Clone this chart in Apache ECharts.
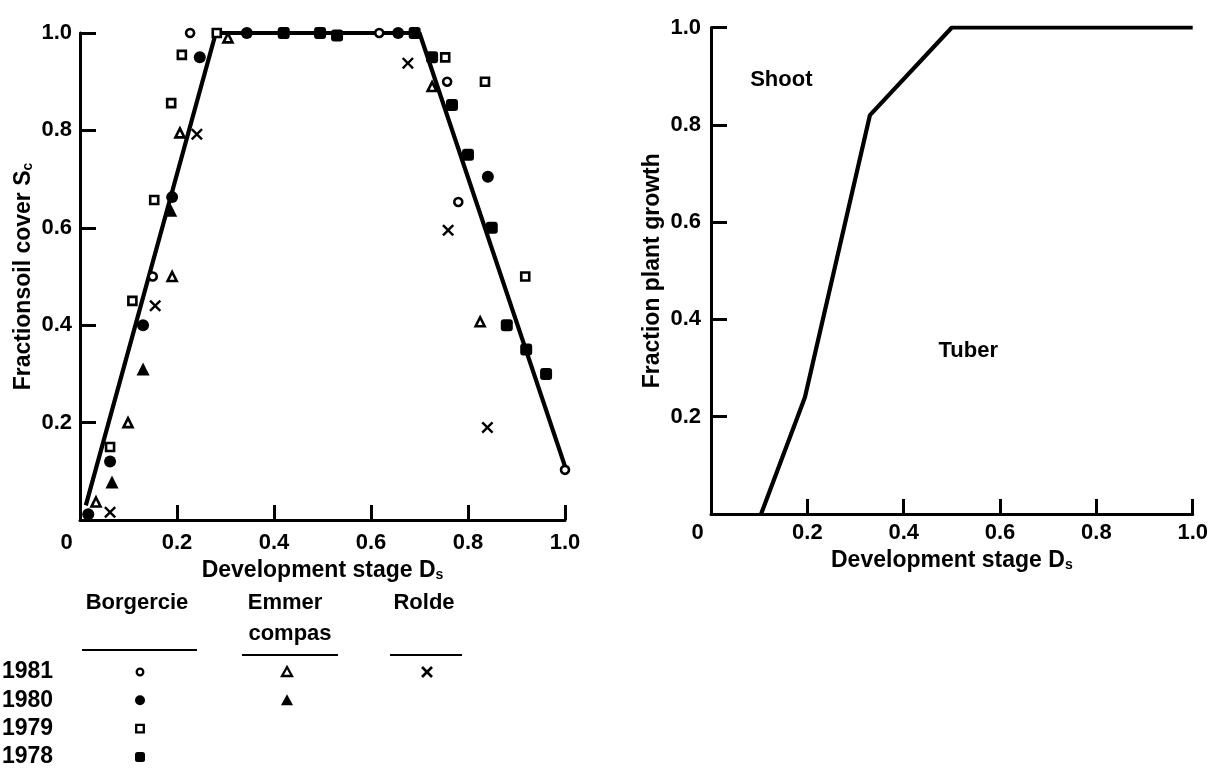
<!DOCTYPE html>
<html>
<head>
<meta charset="utf-8">
<script src="https://cdn.jsdelivr.net/npm/echarts@6/dist/echarts.min.js"></script>
<style>
  html, body { margin: 0; padding: 0; background: #fff; }
  #chart { width: 1211px; height: 769px; }
</style>
</head>
<body>
<div id="chart"></div>
<script>
// ---------- data (left panel: fraction soil cover) ----------
const fitLine     = [[0.012,0.03],[0.28,1.0],[0.70,1.0],[1.0,0.11]];
const borg1981    = [[0.227,1.0],[0.15,0.50],[0.617,1.0],[0.757,0.90],[0.78,0.653],[1.0,0.103]];
const borg1980    = [[0.247,0.95],[0.19,0.663],[0.13,0.40],[0.062,0.12],[0.017,0.012],[0.344,1.0],[0.656,1.0],[0.841,0.705]];
const borg1979    = [[0.21,0.955],[0.188,0.856],[0.153,0.657],[0.108,0.45],[0.062,0.15],[0.282,1.0],[0.753,0.95],[0.835,0.90],[0.918,0.50]];
const borg1978    = [[0.42,1.0],[0.495,1.0],[0.53,0.995],[0.69,1.0],[0.726,0.95],[0.767,0.852],[0.80,0.75],[0.849,0.60],[0.88,0.40],[0.92,0.35],[0.961,0.30]];
const emmer1981   = [[0.305,0.99],[0.206,0.795],[0.19,0.50],[0.099,0.20],[0.033,0.037],[0.726,0.89],[0.825,0.407]];
const emmer1980   = [[0.187,0.636],[0.13,0.31],[0.066,0.078]];
const rolde1981   = [[0.241,0.792],[0.155,0.44],[0.062,0.016],[0.676,0.938],[0.759,0.595],[0.84,0.19]];

// ---------- data (right panel: fraction plant growth) ----------
const growthLine  = [[0.104,0],[0.195,0.24],[0.33,0.82],[0.5,1.0],[1.0,1.0]];
const regionLabels = [
  { name: 'Shoot', value: [0.146, 0.893] },
  { name: 'Tuber', value: [0.534, 0.335] }
];

// ---------- text ----------
const xAxisName = 'Development stage D{s|s}';
const yLeftName = 'Fractionsoil cover S{s|c}';
const yRightName = 'Fraction plant growth';
const legendYears = ['1981','1980','1979','1978'];
const legendSites = ['Borgercie','Emmer','Rolde'];
const legendSites2 = ['','compas',''];

const FONT = 'Liberation Sans';
const FW = 'bold';
const BLACK = '#000';
const CROSS = 'path://M0,1.4L1.4,0L5,3.6L8.6,0L10,1.4L6.4,5L10,8.6L8.6,10L5,6.4L1.4,10L0,8.6L3.6,5Z';

const chart = echarts.init(document.getElementById('chart'), null, { renderer: 'canvas' });

const subRich = { s: { fontFamily: FONT, fontWeight: FW, fontSize: 14, color: BLACK, verticalAlign: 'bottom', padding: [9,0,0,0] } };

function xAxisCfg(gridIndex, margin, gap) {
  return {
    gridIndex, type: 'value', min: 0, max: 1, interval: 0.2,
    name: xAxisName, nameLocation: 'middle', nameGap: gap,
    nameTextStyle: { color: BLACK, fontFamily: FONT, fontWeight: FW, fontSize: 23, rich: subRich },
    axisLine: { show: true, lineStyle: { color: BLACK, width: 3 } },
    axisTick: { show: true, inside: true, length: 15, lineStyle: { color: BLACK, width: 3 } },
    splitLine: { show: false },
    axisLabel: { color: BLACK, fontFamily: FONT, fontWeight: FW, fontSize: 22, margin: margin,
      formatter: v => v === 0 ? '{z|0}' : v.toFixed(1),
      rich: { z: { fontFamily: FONT, fontWeight: FW, fontSize: 22, color: BLACK, padding: [0, 27, 0, 0] } } }
  };
}
function yAxisCfg(gridIndex, name, gap, margin) {
  return {
    gridIndex, type: 'value', min: 0, max: 1, interval: 0.2,
    name: name, nameLocation: 'middle', nameGap: gap, nameRotate: 90,
    nameTextStyle: { color: BLACK, fontFamily: FONT, fontWeight: FW, fontSize: 23, rich: subRich },
    axisLine: { show: true, lineStyle: { color: BLACK, width: 3 } },
    axisTick: { show: true, inside: true, length: 16, lineStyle: { color: BLACK, width: 3 } },
    splitLine: { show: false },
    axisLabel: { color: BLACK, fontFamily: FONT, fontWeight: FW, fontSize: 22, margin: margin,
      formatter: v => v === 0 ? '' : v.toFixed(1) }
  };
}

function scatter(name, data, symbol, size, open) {
  return {
    name, type: 'scatter', xAxisIndex: 0, yAxisIndex: 0, data,
    symbol, symbolSize: size, z: 5,
    itemStyle: open ? { color: '#fff', borderColor: BLACK, borderWidth: 2.6, opacity: 1 } : { color: BLACK, borderWidth: 0, opacity: 1 }
  };
}

// ---------- legend table (graphic) ----------
const colX = [140, 287, 427];
const rowY0 = 672, rowGap = 28.3;
const FSTR = FW + ' 22px "' + FONT + '"';
const FYEAR = FW + ' 23px "' + FONT + '"';
const graphics = [];
legendSites.forEach((s, i) => {
  graphics.push({ type: 'text', x: colX[i] - (i === 1 ? 2 : 3), y: 603,
    style: { text: s, fill: BLACK, font: FSTR, textAlign: 'center', textVerticalAlign: 'middle' } });
  if (legendSites2[i]) graphics.push({ type: 'text', x: colX[i] + 3, y: 634,
    style: { text: legendSites2[i], fill: BLACK, font: FSTR, textAlign: 'center', textVerticalAlign: 'middle' } });
});
const underl = [[82,197,650],[242,338,655],[390,462,655]];
underl.forEach(u => graphics.push({ type: 'line', shape: { x1: u[0], y1: u[2], x2: u[1], y2: u[2] }, style: { stroke: BLACK, lineWidth: 2.2 } }));
legendYears.forEach((yr, i) => {
  graphics.push({ type: 'text', x: 2, y: rowY0 + i * rowGap,
    style: { text: yr, fill: BLACK, font: FYEAR, textAlign: 'left', textVerticalAlign: 'middle' } });
});
const lg = (i) => rowY0 + i * rowGap;
graphics.push({ type: 'circle', shape: { cx: colX[0], cy: lg(0), r: 3.3 }, style: { fill: '#fff', stroke: BLACK, lineWidth: 2.3 } });
graphics.push({ type: 'circle', shape: { cx: colX[0], cy: lg(1), r: 5 }, style: { fill: BLACK } });
graphics.push({ type: 'rect', shape: { x: colX[0] - 3.8, y: lg(2) - 3.8, width: 7.6, height: 7.6 }, style: { fill: '#fff', stroke: BLACK, lineWidth: 2.3 } });
graphics.push({ type: 'rect', shape: { x: colX[0] - 5, y: lg(3) - 5, width: 10, height: 10, r: 2.5 }, style: { fill: BLACK } });
graphics.push({ type: 'polygon', shape: { points: [[colX[1], lg(0) - 5], [colX[1] + 5, lg(0) + 4], [colX[1] - 5, lg(0) + 4]] }, style: { fill: '#fff', stroke: BLACK, lineWidth: 2.3 } });
graphics.push({ type: 'polygon', shape: { points: [[colX[1], lg(1) - 6], [colX[1] + 6, lg(1) + 5], [colX[1] - 6, lg(1) + 5]] }, style: { fill: BLACK } });
graphics.push({ type: 'line', shape: { x1: colX[2] - 5, y1: lg(0) - 5, x2: colX[2] + 5, y2: lg(0) + 5 }, style: { stroke: BLACK, lineWidth: 2.6 } });
graphics.push({ type: 'line', shape: { x1: colX[2] + 5, y1: lg(0) - 5, x2: colX[2] - 5, y2: lg(0) + 5 }, style: { stroke: BLACK, lineWidth: 2.6 } });

const option = {
  backgroundColor: '#fff',
  animation: false,
  textStyle: { fontFamily: FONT },
  grid: [
    { left: 80, top: 33, width: 485, height: 487 },
    { left: 711, top: 27.5, width: 487, height: 486.5 }
  ],
  xAxis: [ xAxisCfg(0, 12, 38), xAxisCfg(1, 8, 31) ],
  yAxis: [ yAxisCfg(0, yLeftName, 45, 8), yAxisCfg(1, yRightName, 47, 10) ],
  graphic: graphics,
  series: [
    { name: 'fit', type: 'line', xAxisIndex: 0, yAxisIndex: 0, data: fitLine,
      symbol: 'none', lineStyle: { color: BLACK, width: 4.2 }, z: 2 },
    scatter('Borgercie 1981', borg1981, 'circle', 8, true),
    scatter('Borgercie 1980', borg1980, 'circle', 12, false),
    scatter('Borgercie 1979', borg1979, 'rect', 8, true),
    scatter('Borgercie 1978', borg1978, 'roundRect', 12, false),
    scatter('Emmer compas 1981', emmer1981, 'triangle', 9, true),
    scatter('Emmer compas 1980', emmer1980, 'triangle', 13, false),
    scatter('Rolde 1981', rolde1981, CROSS, 12, false),
    { name: 'growth', type: 'line', xAxisIndex: 1, yAxisIndex: 1, data: growthLine,
      symbol: 'none', lineStyle: { color: BLACK, width: 4.2 }, z: 2 },
    { name: 'regions', type: 'scatter', xAxisIndex: 1, yAxisIndex: 1, data: regionLabels,
      symbolSize: 0, silent: true, itemStyle: { opacity: 1 },
      label: { show: true, position: 'inside', formatter: p => p.name,
        color: BLACK, fontFamily: FONT, fontWeight: FW, fontSize: 22 } }
  ]
};
chart.setOption(option);
</script>
</body>
</html>
